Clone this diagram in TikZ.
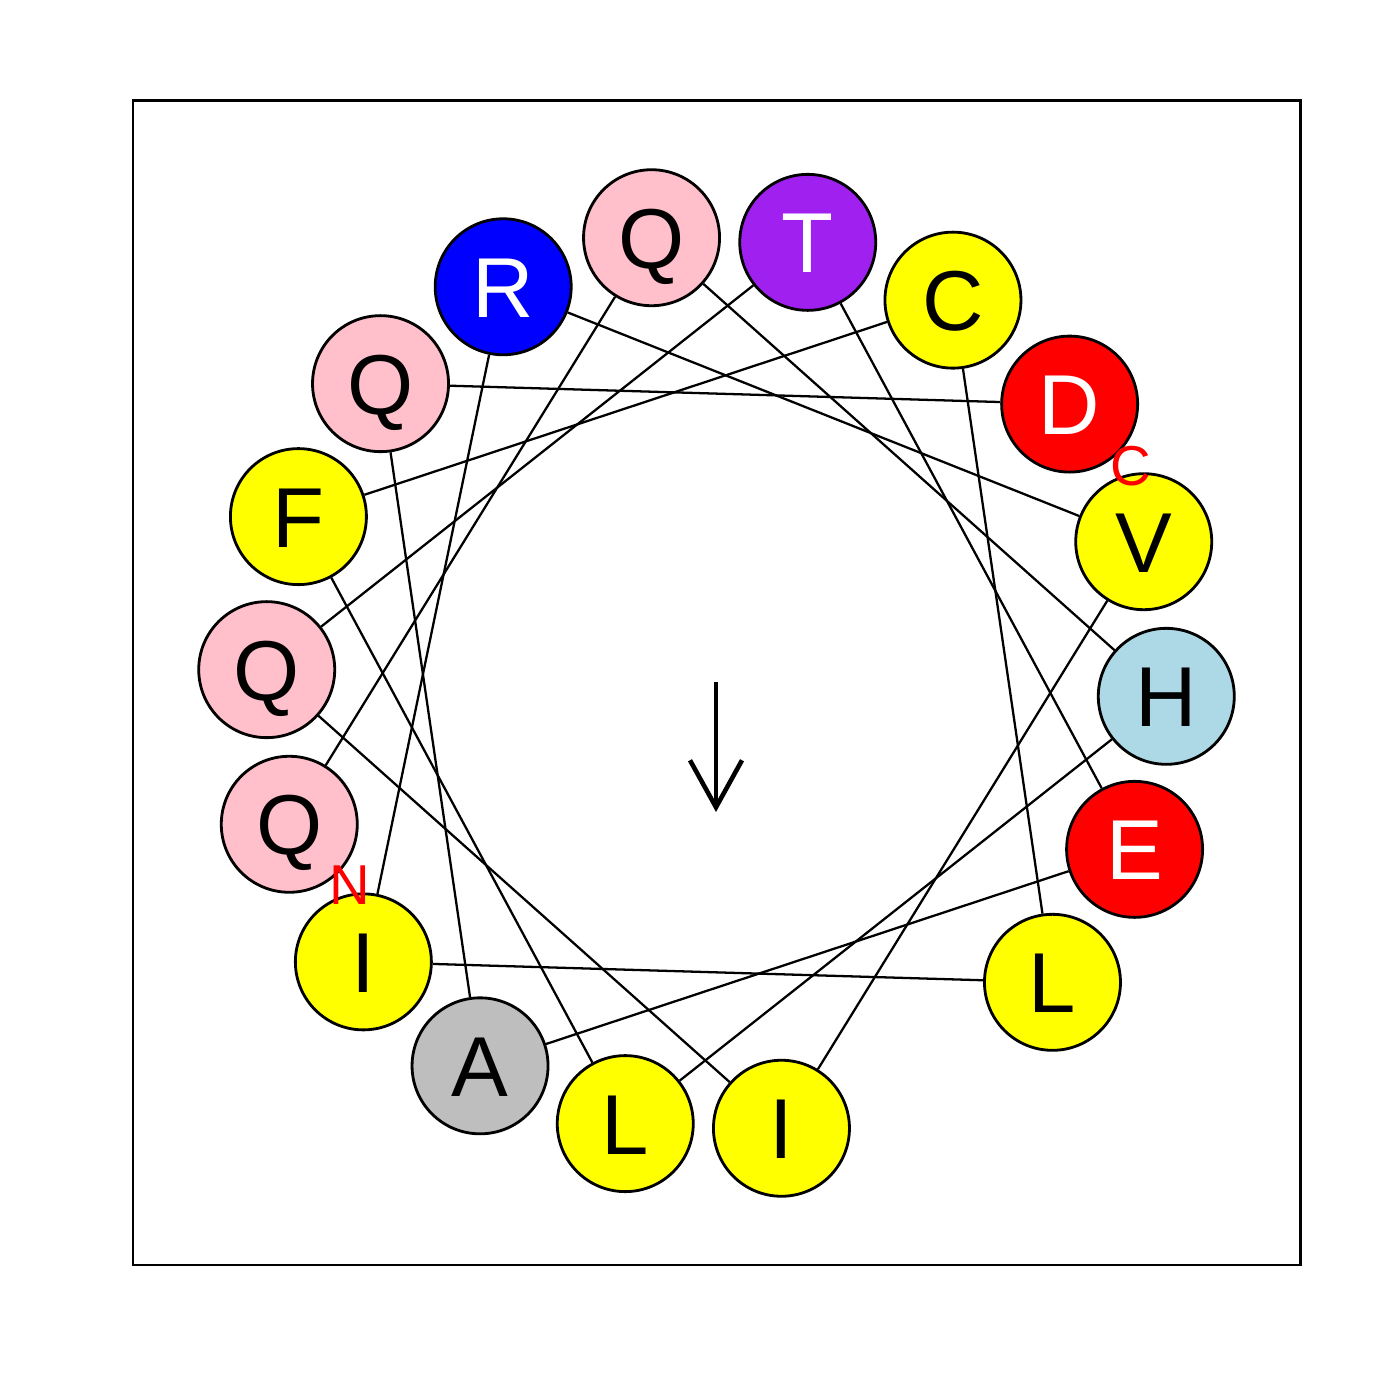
\documentclass[tikz,border=0pt]{standalone}
\usepackage{fontspec}
\setmainfont{Liberation Sans}
\usetikzlibrary{arrows.meta}

\definecolor{respink}{RGB}{255,192,203}
\definecolor{respurple}{RGB}{160,32,240}
\definecolor{resblue}{RGB}{0,0,255}
\definecolor{resred}{RGB}{255,0,0}
\definecolor{resyellow}{RGB}{255,255,0}
\definecolor{reslightblue}{RGB}{173,216,230}
\definecolor{resgray}{RGB}{190,190,190}

\tikzset{
	res/.style={circle,draw,line width=0.8pt,minimum size=1.36cm,inner sep=0pt,
		text height=17.3pt,text depth=0pt,font=\fontsize{24.2}{24}\selectfont},
	link/.style={line width=0.65pt},
	endlab/.style={text=resred,inner sep=0pt,font=\fontsize{16}{16}\selectfont}
}

\begin{document}
\begin{tikzpicture}
				\useasboundingbox (0,0) rectangle (14,14);
				\draw[line width=0.85pt] (1.33,1.35) rectangle (13.00,12.99);

				% residues along the wheel, 100 degrees apart
				\foreach \k/\aa/\col/\txt in {0/Q/respink/black,1/Q/respink/black,
					2/H/reslightblue/black,3/L/resyellow/black,4/F/resyellow/black,
					5/C/resyellow/black,6/L/resyellow/black,7/I/resyellow/black,
					8/R/resblue/white,9/V/resyellow/black,10/I/resyellow/black,
					11/Q/respink/black,12/T/respurple/white,13/E/resred/white,
					14/A/resgray/black,15/Q/respink/black,16/D/resred/white}
				{
					\node[res,fill=\col,text=\txt] (r\k)
					at ({7.165+4.5*cos(198.3-100*\k)},{7.17+4.5*sin(198.3-100*\k)}) {\aa};
				}

				\foreach \k in {1,...,16}
				{
					\pgfmathtruncatemacro{\j}{\k-1}
					\draw[link] (r\j)--(r\k);
				}

				\node[endlab] (nlab) at (3.50,5.15) {N};
				\node[endlab] (clab) at (11.31,9.34) {C};

				\coordinate (mtail) at (7.16,7.18);
				\coordinate (mhead) at (7.16,5.88);
				\draw[line width=1.3pt,-{Straight Barb[length=4.7mm,width=5.2mm]}]
				(mtail)--(mhead);
\end{tikzpicture}
\end{document}
